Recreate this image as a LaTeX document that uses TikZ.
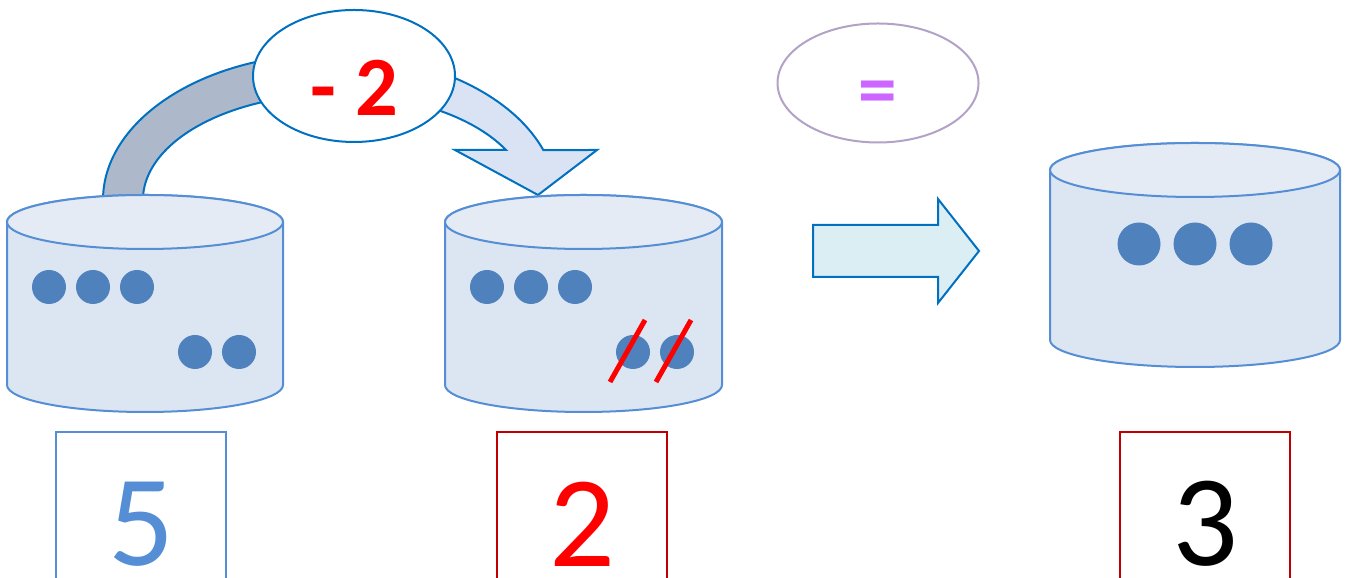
\documentclass[tikz,border=0pt]{standalone}
\usepackage{fontspec}
\setmainfont{Carlito}
\usetikzlibrary{shapes.geometric}
\definecolor{edgec}{RGB}{85,142,213}
\definecolor{bodyc}{RGB}{220,230,242}
\definecolor{topc}{RGB}{228,235,245}
\definecolor{dotc}{RGB}{79,129,189}
\definecolor{linec}{RGB}{0,112,192}
\definecolor{grayc}{RGB}{173,185,202}
\definecolor{paleb}{RGB}{218,227,243}
\definecolor{cyanc}{RGB}{219,238,244}
\definecolor{lilac}{RGB}{179,162,199}
\definecolor{eqc}{RGB}{204,102,255}
\definecolor{boxred}{RGB}{192,0,0}

% #1 centre x, #2 top y, #3 bottom y, #4 half width
\newcommand{\tank}[4]{%
  \filldraw[tank] ({#1-#4},#2) -- ({#1-#4},#3) arc[start angle=180, end angle=0, x radius=#4, y radius=27]
    -- ({#1+#4},#2) arc[start angle=0, end angle=-180, x radius=#4, y radius=27] -- cycle;
  \filldraw[tank, fill=topc] (#1,#2) ellipse[x radius=#4, y radius=27];
}
\def\arcband{(103,200) arc[start angle=180, end angle=340, x radius=227, y radius=146]
  -- (597,150) -- (538,195) -- (455,150) -- (506,150)
  arc[start angle=331.8, end angle=180, x radius=193, y radius=106] -- cycle}

\begin{document}
\begin{tikzpicture}[x=0.1mm, y=-0.1mm, tank/.style={draw=edgec, fill=bodyc, line width=0.2mm}, dot/.style={fill=dotc}, slash/.style={draw=red, line width=0.5mm}, oval/.style={ellipse, draw, fill=white, line width=0.2mm, inner sep=0pt}, numbox/.style={rectangle, draw, line width=0.2mm, minimum width=17mm, minimum height=15.3mm, anchor=north}, digit/.style={inner sep=0pt, font=\fontsize{37}{40}\selectfont}]

    \useasboundingbox (0,0) rectangle (1351,578);

    % curved arrow over the first two tanks
    \fill[paleb] \arcband;
    \begin{scope}
      \clip (0,0) rectangle (354,300);
      \fill[grayc] \arcband;
    \end{scope}
    \draw[linec, line width=0.2mm] \arcband;

    \node[oval, draw=linec, minimum width=20.2mm, minimum height=13.2mm] (minus) at (354,76) {};
    \node[text=red, inner sep=0pt, font=\fontsize{24}{28}\selectfont\bfseries] (minustext) at (354,88) {- 2};

    \node[oval, draw=lilac, minimum width=20.1mm, minimum height=11.9mm] (equal) at (878,83) {};
    \node[text=eqc, inner sep=0pt, font=\fontsize{22}{26}\selectfont\bfseries] (eqtext) at (878,98) {=};

    % tanks
    \tank{145}{222}{385}{138}
    \tank{583.5}{222}{385}{138.5}
    \tank{1195}{170}{340}{145}

    \fill[dot] (49,287) circle[radius=17];
    \fill[dot] (93,287) circle[radius=17];
    \fill[dot] (137,287) circle[radius=17];
    \fill[dot] (195,352) circle[radius=17];
    \fill[dot] (239,352) circle[radius=17];

    \fill[dot] (487,287) circle[radius=17];
    \fill[dot] (531,287) circle[radius=17];
    \fill[dot] (575,287) circle[radius=17];
    \fill[dot] (633,352) circle[radius=17];
    \fill[dot] (677,352) circle[radius=17];
    \draw[slash] (610,382) -- (645,320);
    \draw[slash] (656,382) -- (691,320);

    \fill[dot] (1139,244) circle[radius=21.5];
    \fill[dot] (1195,244) circle[radius=21.5];
    \fill[dot] (1251,244) circle[radius=21.5];

    % block arrow
    \filldraw[fill=cyanc, draw=linec, line width=0.2mm] (813,225) -- (938,225) -- (938,199) -- (979,251) -- (938,303) -- (938,277) -- (813,277) -- cycle;

    % number boxes, running off the bottom edge
    \node[numbox, draw=edgec] (fivebox) at (141,431) {};
    \node[numbox, draw=boxred] (twobox) at (582,431) {};
    \node[numbox, draw=boxred] (threebox) at (1205,431) {};
    \node[digit, text=edgec] (five) at (141,524) {5};
    \node[digit, text=red] (two) at (582,524) {2};
    \node[digit, text=black] (three) at (1205,524) {3};

  \end{tikzpicture}
\end{document}
